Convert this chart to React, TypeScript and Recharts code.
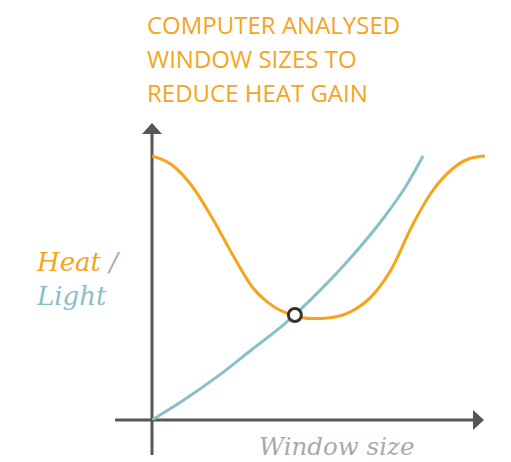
import { LineChart, Line, XAxis, YAxis, ReferenceLine, ReferenceDot } from 'recharts';

// window size (0-100) vs heat
const heatX = [0, 6, 12, 18, 24, 30, 36, 42, 48, 54, 60, 66, 72, 78, 84, 90, 95, 100];
const heatY = [88, 85, 78, 67.5, 55.5, 44.5, 38.2, 35, 33.8, 34.2, 36.3, 41.3, 50.5, 64.5, 76, 83.5, 87, 88];

const lightX = [0, 10, 20, 30, 40, 50, 60, 70, 76, 81.4];
const lightY = [0, 7, 14.8, 23.5, 32.2, 42.7, 54.5, 68, 77.5, 88];

const crossing = { x: 42.9, y: 35 };

const ORANGE = '#F7A41D';
const BLUE = '#88C0CA';
const AXIS = '#575757';
const GREY = '#A9A9A9';

const heatData = heatX.map((x, i) => ({ x, v: heatY[i] }));
const lightData = lightX.map((x, i) => ({ x, v: lightY[i] }));

const upArrow = ({ cx, cy }: any) => (
  <polygon points={`${cx},${cy - 11} ${cx - 10},${cy} ${cx + 10},${cy}`} fill={AXIS} />
);
const rightArrow = ({ cx, cy }: any) => (
  <polygon points={`${cx + 11},${cy} ${cx},${cy - 10} ${cx},${cy + 10}`} fill={AXIS} />
);

export default function App() {
  return (
    <div style={{ position: 'absolute', left: 0, top: 0, width: 511, height: 462, background: '#fff' }}>
      <div
        style={{
          position: 'absolute',
          left: 147,
          top: 8,
          fontFamily: '"Open Sans", sans-serif',
          fontSize: 24,
          lineHeight: '34px',
          color: ORANGE,
          whiteSpace: 'nowrap',
        }}
      >
        COMPUTER ANALYSED
        <br />
        WINDOW SIZES TO
        <br />
        REDUCE HEAT GAIN
      </div>
      <div
        style={{
          position: 'absolute',
          left: 37,
          top: 245,
          fontFamily: '"DejaVu Serif", serif',
          fontStyle: 'italic',
          fontSize: 26,
          lineHeight: '34px',
          whiteSpace: 'nowrap',
        }}
      >
        <span style={{ color: ORANGE }}>Heat</span> <span style={{ color: GREY }}>/</span>
        <br />
        <span style={{ color: BLUE }}>Light</span>
      </div>
      <div
        style={{
          position: 'absolute',
          left: 259,
          top: 432,
          fontFamily: '"DejaVu Serif", serif',
          fontStyle: 'italic',
          fontSize: 24.5,
          color: GREY,
          whiteSpace: 'nowrap',
        }}
      >
        Window size
      </div>
      <LineChart width={511} height={462} margin={{ top: 120, right: 26, bottom: 42, left: 152 }}>
        <XAxis type="number" dataKey="x" domain={[0, 100]} hide allowDataOverflow />
        <YAxis type="number" domain={[0, 100]} hide allowDataOverflow />
        <ReferenceLine
          segment={[{ x: 0, y: -11.7 }, { x: 0, y: 96 }]}
          stroke={AXIS}
          strokeWidth={3}
          ifOverflow="visible"
        />
        <ReferenceLine
          segment={[{ x: -11.1, y: 0 }, { x: 96.5, y: 0 }]}
          stroke={AXIS}
          strokeWidth={3}
          ifOverflow="visible"
        />
        <ReferenceDot x={0} y={95.3} shape={upArrow} ifOverflow="visible" />
        <ReferenceDot x={96.4} y={0} shape={rightArrow} ifOverflow="visible" />
        <Line
          data={heatData}
          dataKey="v"
          type="monotone"
          stroke={ORANGE}
          strokeWidth={3}
          dot={false}
          isAnimationActive={false}
        />
        <Line
          data={lightData}
          dataKey="v"
          type="monotone"
          stroke={BLUE}
          strokeWidth={3}
          dot={false}
          isAnimationActive={false}
        />
        <ReferenceDot
          x={crossing.x}
          y={crossing.y}
          r={6.5}
          fill="#fff"
          stroke="#333"
          strokeWidth={3}
          ifOverflow="visible"
        />
      </LineChart>
    </div>
  );
}
